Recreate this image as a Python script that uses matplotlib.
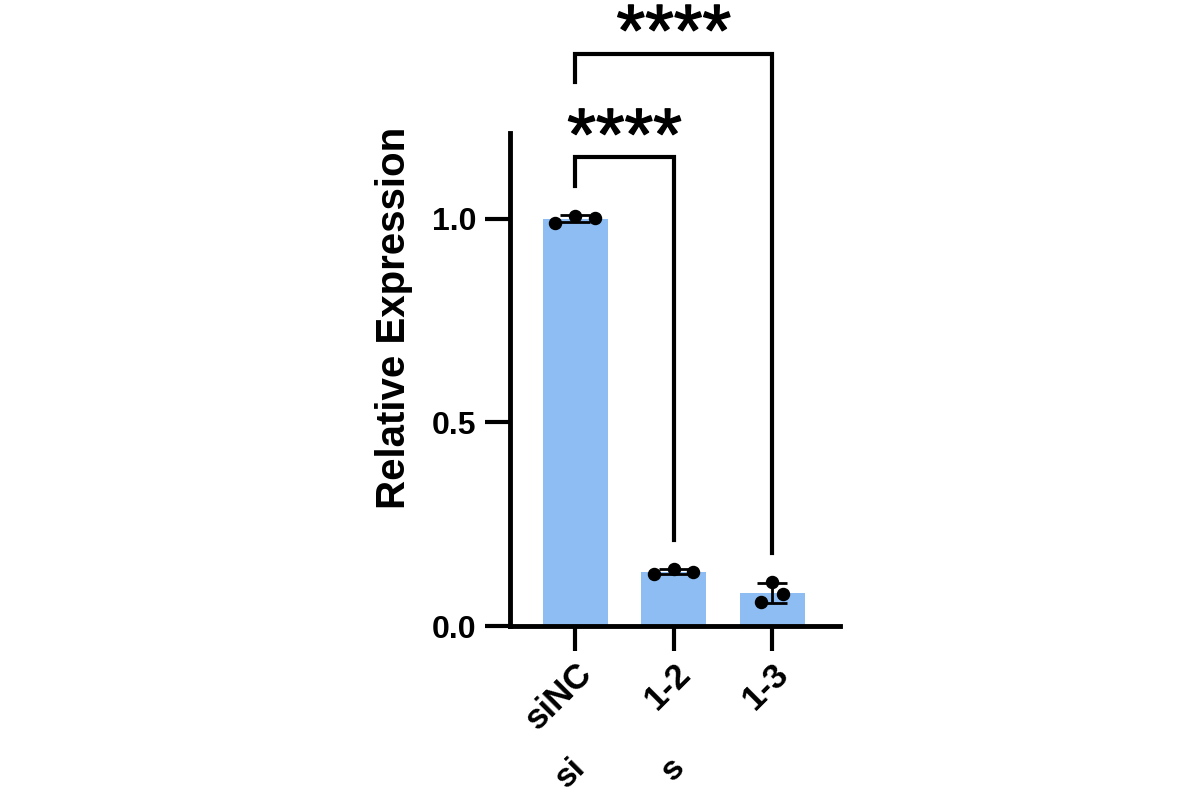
import matplotlib
matplotlib.use("Agg")
import matplotlib.pyplot as plt
import matplotlib.patheffects as pe
import numpy as np

plt.rcParams['font.family'] = ['Liberation Sans', 'DejaVu Sans']
plt.rcParams['font.weight'] = 'bold'

# data
groups = ['siNC', '1-2', '1-3']
reps = [[0.990, 1.007, 1.002],
        [0.127, 0.140, 0.132],
        [0.059, 0.108, 0.078]]
sublabels = ['si', 's', '']
yticks = [0.0, 0.5, 1.0]
# comparisons: (group a, group b, bracket height, left leg end, right leg end, text)
pairs = [(0, 1, 1.15, 1.08, 0.21, '****'),
         (0, 2, 1.405, 1.335, 0.18, '****')]

bar_color = '#8dbdf2'
lw = 3.5

fig = plt.figure(figsize=(12, 8), dpi=100)
ax = fig.add_axes([510/1200, 1 - 626/800, 330/1200, 493/800])

x = np.arange(len(groups))
means = [np.mean(r) for r in reps]
sds = [np.std(r, ddof=1) for r in reps]

ax.bar(x, means, width=0.66, color=bar_color, edgecolor='none', zorder=1)

offs = [-0.2, 0.0, 0.2]
for i, r in enumerate(reps):
    ax.errorbar(x[i], means[i], yerr=sds[i], fmt='none', ecolor='black',
                elinewidth=2, capsize=11, capthick=2, zorder=3)
    ax.scatter(x[i] + np.array(offs[:len(r)]) * (0.55 if i == 2 else 1.0), r,
               s=75, color='black', zorder=4, clip_on=False)

ax.set_xlim(-0.66, 2.69)
ax.set_ylim(0, 1.21)
ax.set_yticks(yticks)
ax.set_yticklabels(['%.1f' % v for v in yticks], fontsize=23, fontweight='bold')
ax.set_xticks(x)
ax.set_xticklabels(groups, rotation=45, ha='right', rotation_mode='anchor',
                   fontsize=25, fontweight='bold')
for s in ['top', 'right']:
    ax.spines[s].set_visible(False)
for s in ['left', 'bottom']:
    ax.spines[s].set_linewidth(lw)
ax.tick_params(axis='both', width=3, length=18, pad=6)
ax.tick_params(axis='x', pad=4)

# significance brackets
for a, b, h, la, lb, txt in pairs:
    ax.plot([x[a], x[a], x[b], x[b]], [la, h, h, lb], color='black',
            lw=3, clip_on=False, solid_joinstyle='miter')
    ax.text((x[a] + x[b]) / 2, h - 0.005, txt, ha='center', va='baseline',
            fontsize=53, fontweight='normal',
            path_effects=[pe.withStroke(linewidth=1.0, foreground='black')])

# second-row label fragments
for i, t in enumerate(sublabels):
    if t:
        ax.text(x[i] - 0.05, -0.31, t, rotation=45, ha='right', va='top',
                rotation_mode='anchor', fontsize=24, fontweight='bold',
                clip_on=False)

fig.text(394/1200, 1 - 318/800, 'Relative Expression', rotation=90,
         ha='center', va='center', fontsize=29, fontweight='bold')

fig.savefig('out.png', dpi=100)
